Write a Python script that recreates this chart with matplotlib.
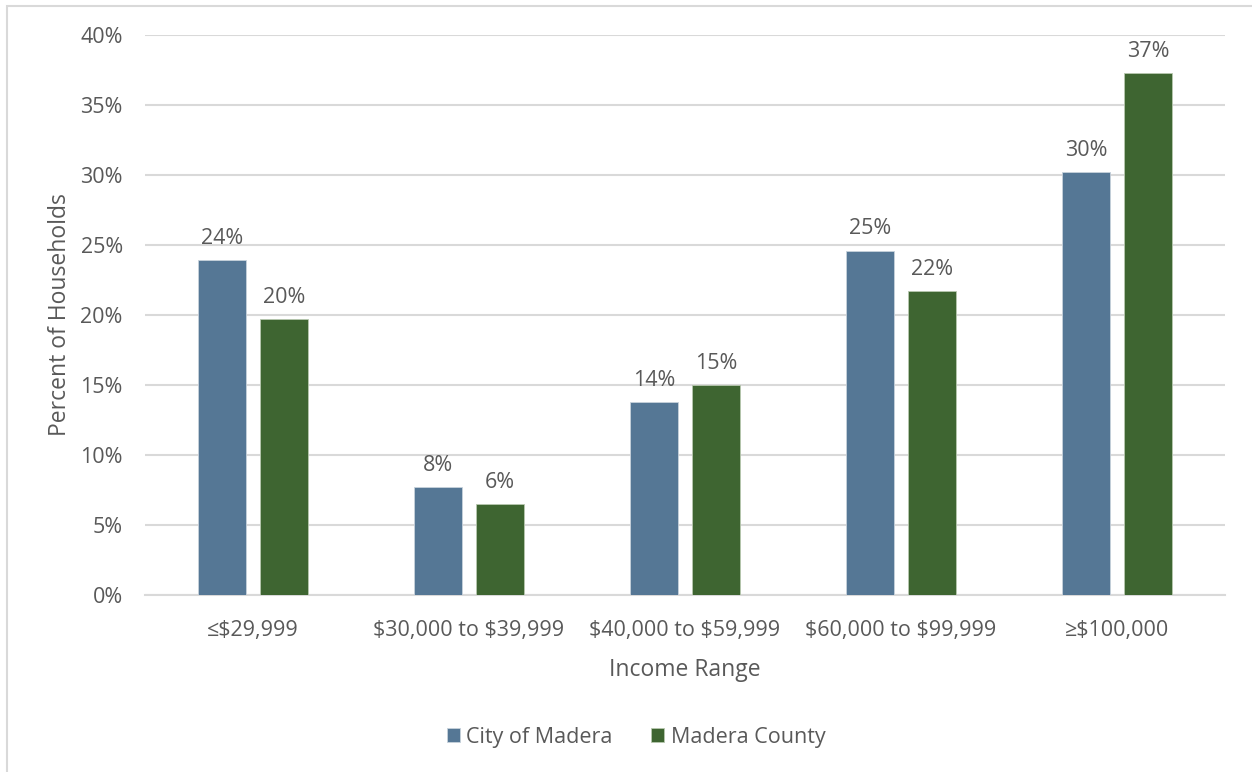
import numpy as np
import matplotlib
matplotlib.use('Agg')
import matplotlib.pyplot as plt
from matplotlib.patches import Rectangle

plt.rcParams['font.family'] = ['Open Sans', 'DejaVu Sans']
plt.rcParams['text.parse_math'] = False

categories = ['≤$29,999', '$30,000 to $39,999', '$40,000 to $59,999',
              '$60,000 to $99,999', '≥$100,000']
city = [23.9, 7.7, 13.8, 24.6, 30.2]
county = [19.7, 6.5, 15.0, 21.7, 37.3]
yticks = [0, 5, 10, 15, 20, 25, 30, 35, 40]

txt = '#595959'
grid_col = '#d9d9d9'
city_col = '#557795'
county_col = '#3e6531'

fig = plt.figure(figsize=(12.52, 7.72), dpi=100)
ax = fig.add_axes([0.1158, 0.2293, 0.8626, 0.7254])

x = np.arange(len(categories))
w = 0.222
off = 0.144
b1 = ax.bar(x - off, city, w, color=city_col, edgecolor='#c8d2dc', linewidth=0.6,
            label='City of Madera', zorder=3)
b2 = ax.bar(x + off, county, w, color=county_col, edgecolor='#b8c8b0', linewidth=0.6,
            label='Madera County', zorder=3)

for bars, vals in [(b1, city), (b2, county)]:
    for r, v in zip(bars, vals):
        ax.text(r.get_x() + r.get_width() / 2, v + 0.8, '%d%%' % round(v),
                ha='center', va='bottom', fontsize=15.5, color=txt)

ax.set_xlim(-0.5, len(categories) - 0.5)
ax.set_ylim(0, 40)
ax.set_yticks(yticks)
ax.set_yticklabels(['%d%%' % t for t in yticks])
ax.set_xticks(x)
ax.set_xticklabels(categories)
ax.tick_params(axis='both', length=0, labelsize=15.5, labelcolor=txt)
ax.tick_params(axis='y', pad=16)
ax.tick_params(axis='x', pad=18)
ax.grid(axis='y', color=grid_col, linewidth=1.5, zorder=0)
for s in ['top', 'right', 'left']:
    ax.spines[s].set_visible(False)
ax.spines['bottom'].set_color(grid_col)
ax.spines['bottom'].set_linewidth(1.5)

ax.set_xlabel('Income Range', fontsize=16.5, color=txt, labelpad=12)
fig.text(0.048, 0.592, 'Percent of Households', rotation=90, ha='center', va='center',
         fontsize=16.5, color=txt)

leg = fig.legend(loc='center', bbox_to_anchor=(0.508, 0.045), ncol=2, frameon=False,
                 fontsize=15.5, labelcolor=txt, handlelength=0.6, handleheight=0.6,
                 handletextpad=0.3, columnspacing=1.8)

fig.patches.append(Rectangle((0.0056, -0.1), 1.2, 1.092, transform=fig.transFigure,
                             fill=False, edgecolor='#d9d9d9', linewidth=1.5))

fig.savefig('out.png', dpi=100)
